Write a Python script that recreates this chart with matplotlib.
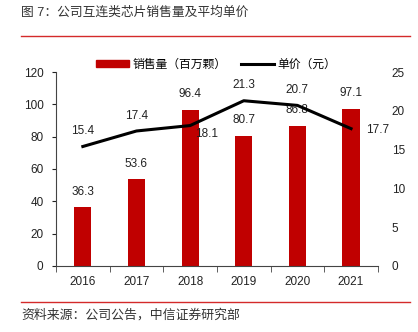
import numpy as np
import matplotlib.pyplot as plt
from matplotlib.lines import Line2D

plt.rcParams['font.family'] = ['Liberation Sans', 'Noto Sans CJK SC']

# 数据
years = ['2016', '2017', '2018', '2019', '2020', '2021']
sales = [36.3, 53.6, 96.4, 80.7, 86.8, 97.1]      # 销售量（百万颗）
price = [15.4, 17.4, 18.1, 21.3, 20.7, 17.7]      # 单价（元）

red = '#C00000'
x = np.arange(len(years))

fig = plt.figure(figsize=(4.18, 3.32), dpi=100)
ax = fig.add_axes([0.134, 0.199, 0.770, 0.584])
ax2 = ax.twinx()

ax.bar(x, sales, width=0.32, color=red, zorder=2)
for xi, v in zip(x, sales):
    ax.annotate(f'{v}', (xi, v), xytext=(0, 7), textcoords='offset points',
                ha='center', va='bottom', fontsize=8.5, color='#222222')

ax2.plot(x, price, color='black', lw=2.2, zorder=3)
# 单价标签偏移（点）
offsets = [(0, 11), (0, 11), (11.5, -6), (0, 11), (0, 11), (19, -1)]
for xi, v, (dx, dy) in zip(x, price, offsets):
    ax2.annotate(f'{v}', (xi, v), xytext=(dx, dy), textcoords='offset points',
                 ha='center', va='center', fontsize=8.5, color='#222222', zorder=4)

ax.set_xlim(-0.5, 5.5)
ax.set_ylim(0, 120)
ax.set_yticks(range(0, 121, 20))
ax2.set_ylim(0, 25)
ax2.set_yticks(range(0, 26, 5))

ax.set_xticks(x)
ax.set_xticklabels(years)
ax.set_xticks(np.arange(-0.5, 5.6, 1), minor=True)
ax.tick_params(axis='x', which='major', length=0, pad=7, labelsize=8.5, colors='#222222')
ax.tick_params(axis='x', which='minor', length=4, direction='out', color='#444444')
ax.tick_params(axis='y', length=3, direction='out', pad=6, labelsize=8.5, colors='#222222')
ax2.tick_params(axis='y', length=0, pad=10, labelsize=8.5, colors='#222222')

for s in ['top', 'right']:
    ax.spines[s].set_visible(False)
for s in ['top', 'right', 'left', 'bottom']:
    ax2.spines[s].set_visible(False)
ax.spines['left'].set_color('#444444')
ax.spines['bottom'].set_color('#444444')

handles = [plt.Rectangle((0, 0), 1, 1, color=red),
           Line2D([0], [0], color='black', lw=2.2)]
fig.legend(handles, ['销售量（百万颗）', '单价（元）'], loc='center',
           bbox_to_anchor=(0.517, 0.805), ncol=2, frameon=False, fontsize=8.5,
           handlelength=2.8, handleheight=0.6, columnspacing=1.2, handletextpad=0.3)

fig.text(0.05, 0.963, '图 7：公司互连类芯片销售量及平均单价', fontsize=9.2,
         color='#333333', va='center', ha='left')
fig.add_artist(Line2D([0.05, 0.98], [0.892, 0.892], color='#D42A2A', lw=1))
fig.add_artist(Line2D([0.05, 0.98], [0.09, 0.09], color='#D42A2A', lw=1))
fig.text(0.05, 0.052, '资料来源：公司公告，中信证券研究部', fontsize=9.3,
         color='#333333', va='center', ha='left')

fig.savefig('out.png', dpi=100)
